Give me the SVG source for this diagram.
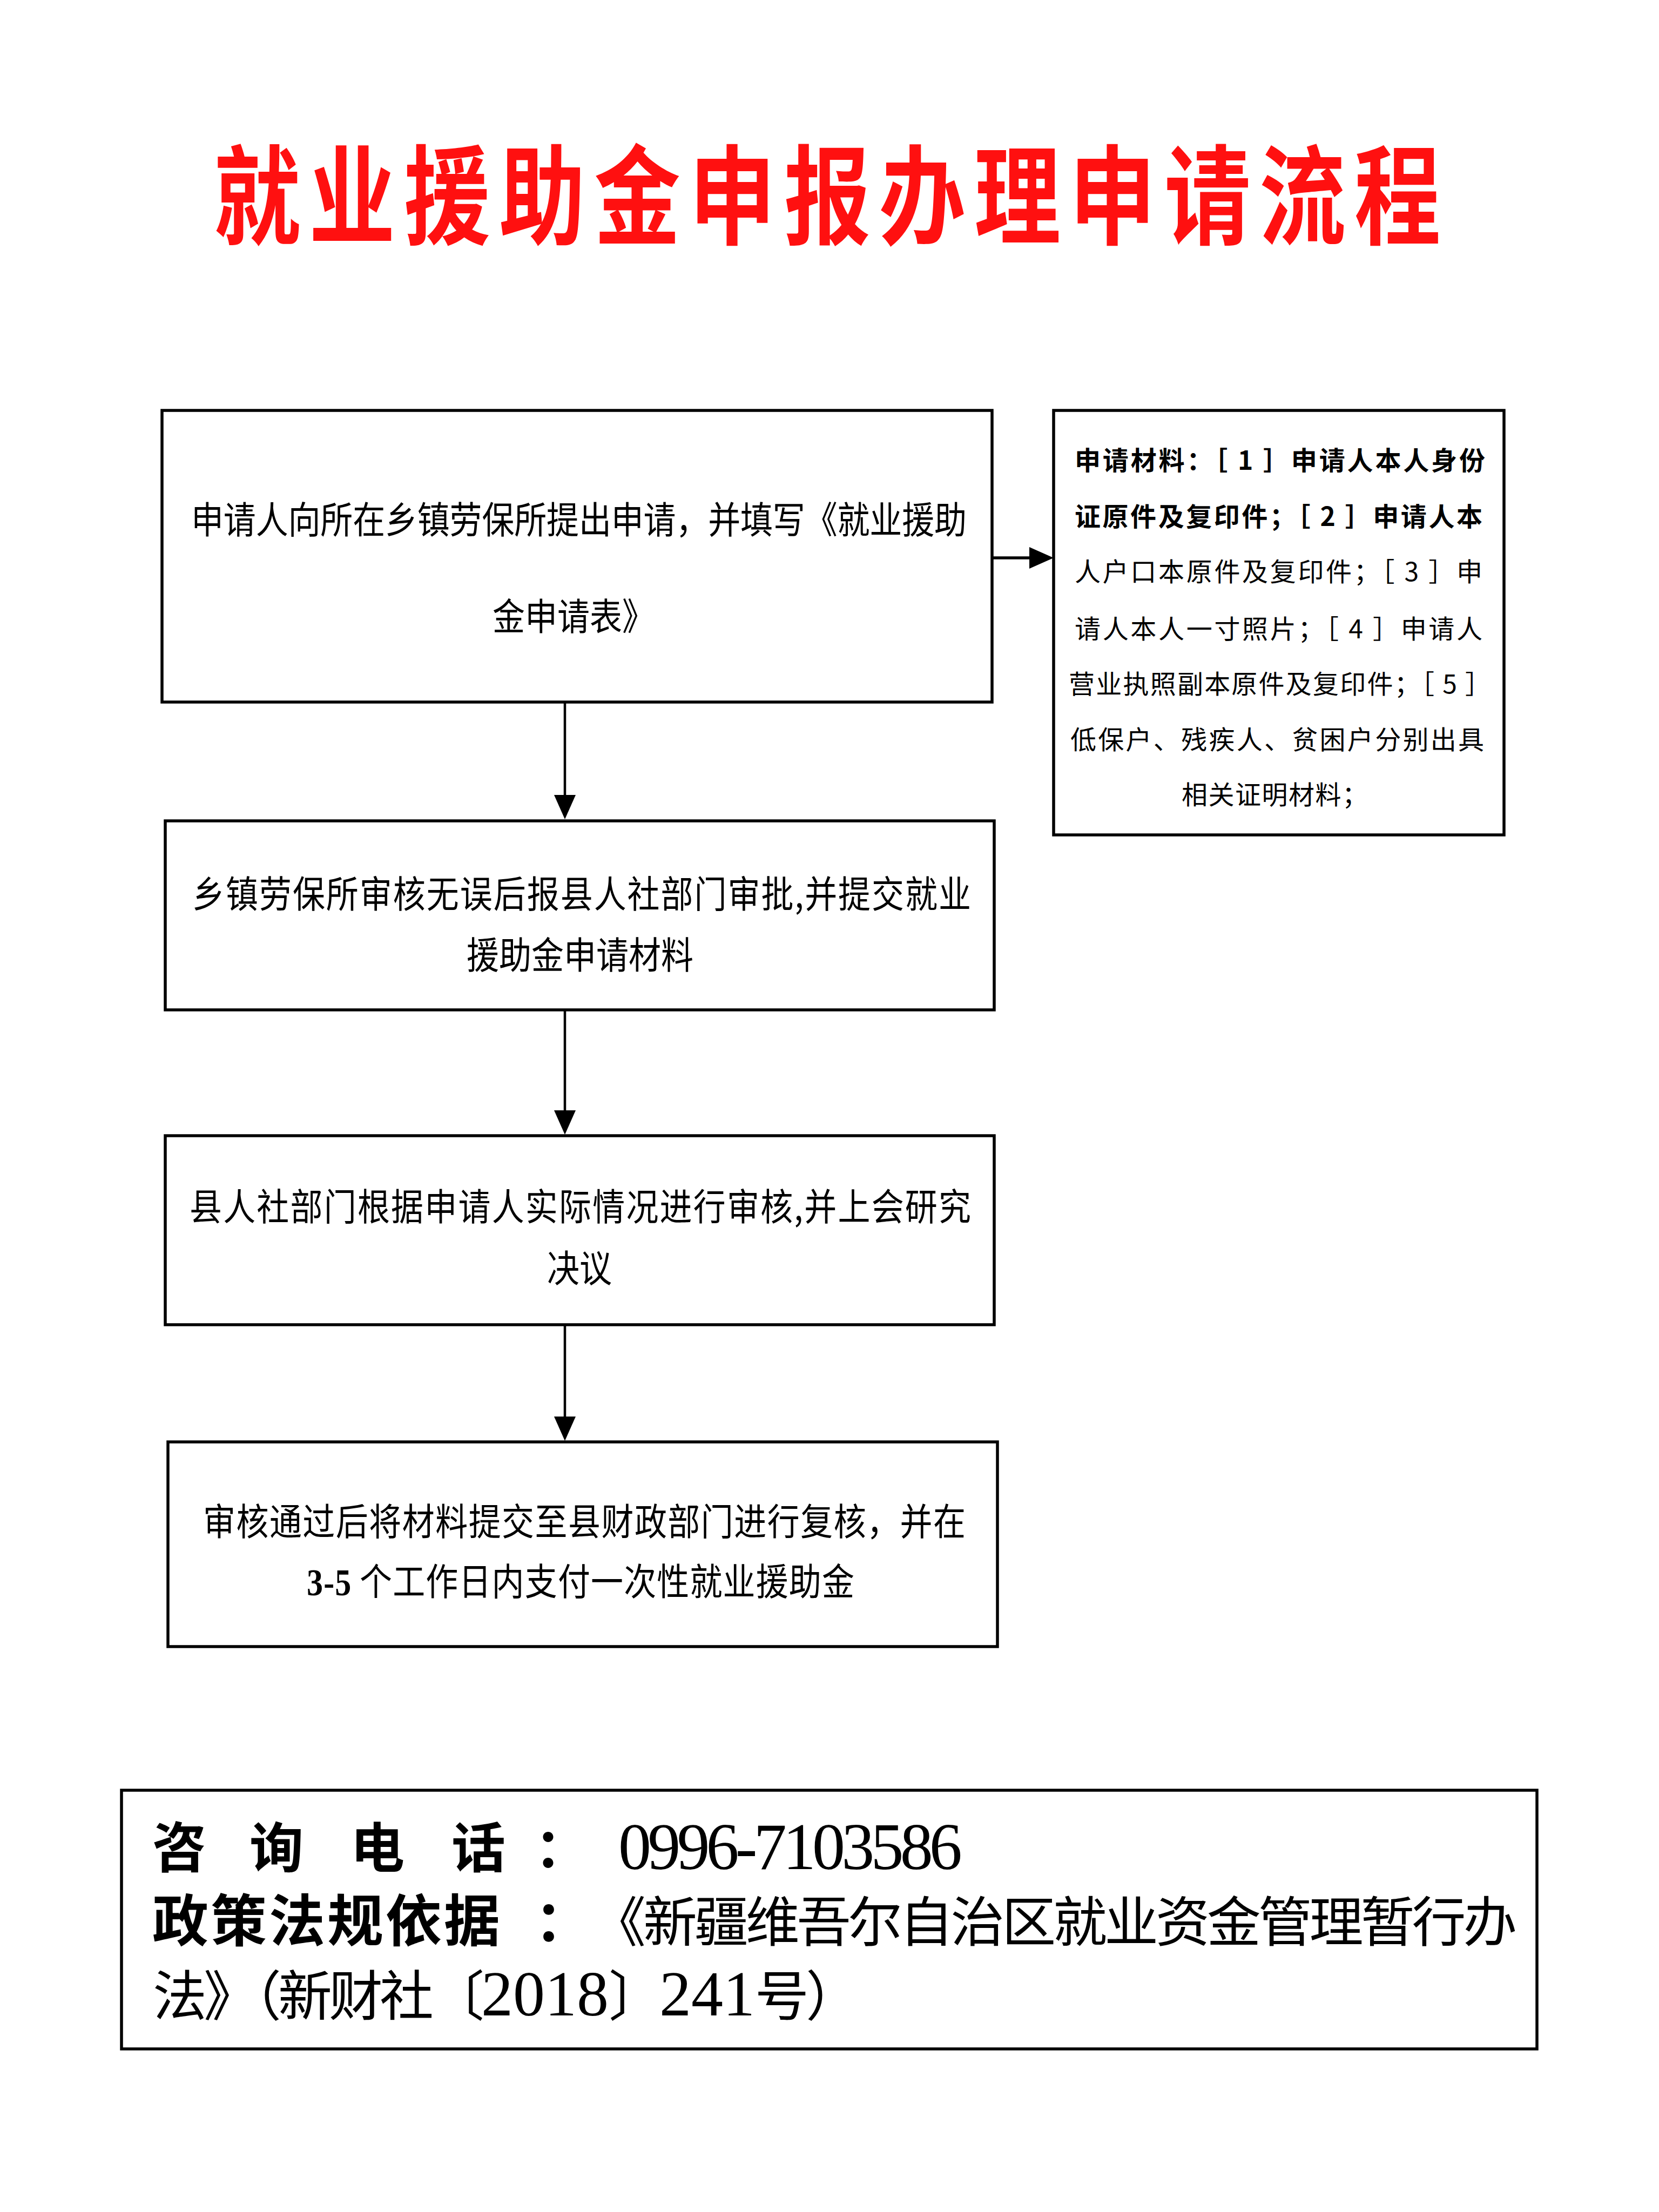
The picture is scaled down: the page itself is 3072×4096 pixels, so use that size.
<svg xmlns="http://www.w3.org/2000/svg" width="3072" height="4096" viewBox="0 0 3072 4096">
<style>
.box{fill:#fff;stroke:#000;stroke-width:5.5}
.con{fill:none;stroke:#000;stroke-width:4.5}
.title{font-family:"Noto Sans CJK SC","Noto Sans CJK TC",sans-serif;font-weight:700;font-size:160px;fill:#FF1010;letter-spacing:16px}
.bt{font-family:"Noto Sans CJK SC",sans-serif;font-size:60px;fill:#000}
.rt{font-family:"Noto Sans CJK SC",sans-serif;font-size:48px;fill:#000}
.rb{font-weight:700}
.ft{font-family:"Noto Sans CJK SC",sans-serif;fill:#000}
.fb{font-weight:700}
.num{font-family:"Liberation Serif",serif}
</style>
<defs>
<marker id="arr" markerUnits="userSpaceOnUse" markerWidth="46" markerHeight="42" viewBox="0 0 46 42" refX="5" refY="21" orient="auto">
<path d="M0,1 L45,21 L0,41 Z" fill="#000"/>
</marker>
</defs>
<rect width="3072" height="4096" fill="#fff"/>

<g id="title">
<text class="title" transform="translate(396,437) scale(1,1.25)">就业援助金申报办理申请流程</text>
</g>

<g id="connectors">
<path class="con" d="M1046,1300 L1046,1477" marker-end="url(#arr)"/>
<path class="con" d="M1046,1870 L1046,2061" marker-end="url(#arr)"/>
<path class="con" d="M1046,2453 L1046,2628" marker-end="url(#arr)"/>
<path class="con" style="stroke-width:5.5" d="M1837,1033 L1911,1033" marker-end="url(#arr)"/>
</g>

<g id="node1">
<rect class="box" x="300" y="760" width="1537" height="540"/>
<text class="bt" transform="translate(354,988) scale(1,1.15)" textLength="1436" lengthAdjust="spacing">申请人向所在乡镇劳保所提出申请，并填写《就业援助</text>
<text class="bt" transform="translate(1062,1167) scale(1,1.15)" text-anchor="middle">金申请表》</text>
</g>

<g id="node-materials">
<rect class="box" x="1951" y="760" width="834" height="786"/>
<text class="rt rb" x="1990" y="870" textLength="760" lengthAdjust="spacing">申请材料：［ 1 ］申请人本人身份</text>
<text class="rt rb" x="1990" y="974" textLength="755" lengthAdjust="spacing">证原件及复印件；［ 2 ］申请人本</text>
<text class="rt" x="1990" y="1076" textLength="755" lengthAdjust="spacing">人户口本原件及复印件；［ 3 ］申</text>
<text class="rt" x="1990" y="1182" textLength="755" lengthAdjust="spacing">请人本人一寸照片；［ 4 ］申请人</text>
<text class="rt" x="1979" y="1284" textLength="782" lengthAdjust="spacing">营业执照副本原件及复印件；［ 5 ］</text>
<text class="rt" x="1982" y="1387" textLength="766" lengthAdjust="spacing">低保户、残疾人、贫困户分别出具</text>
<text class="rt" x="2188" y="1489" textLength="345" lengthAdjust="spacing">相关证明材料；</text>
</g>

<g id="node2">
<rect class="box" x="306" y="1520" width="1535" height="350"/>
<text class="bt" transform="translate(356,1681) scale(1,1.15)" textLength="1442" lengthAdjust="spacing">乡镇劳保所审核无误后报县人社部门审批,并提交就业</text>
<text class="bt" transform="translate(1074,1794) scale(1,1.15)" text-anchor="middle">援助金申请材料</text>
</g>

<g id="node3">
<rect class="box" x="306" y="2103" width="1535" height="350"/>
<text class="bt" transform="translate(351,2260) scale(1,1.15)" textLength="1447" lengthAdjust="spacing">县人社部门根据申请人实际情况进行审核,并上会研究</text>
<text class="bt" transform="translate(1073,2374) scale(1,1.15)" text-anchor="middle">决议</text>
</g>

<g id="node4">
<rect class="box" x="311" y="2670" width="1536" height="379"/>
<text class="bt" transform="translate(376,2843) scale(1,1.15)" textLength="1412" lengthAdjust="spacing">审核通过后将材料提交至县财政部门进行复核，并在</text>
<text class="bt" transform="translate(568,2954) scale(1,1.15)" textLength="1014" lengthAdjust="spacing"><tspan class="num" font-weight="700">3-5</tspan> 个工作日内支付一次性就业援助金</text>
</g>

<g id="footer">
<rect class="box" x="225" y="3315" width="2621" height="479"/>
<text class="ft"><tspan class="fb" x="282" y="3458" font-size="100">咨 </tspan><tspan class="fb" x="462" y="3458" font-size="100">询 </tspan><tspan class="fb" x="649" y="3458" font-size="100">电 </tspan><tspan class="fb" x="836" y="3458" font-size="100">话 </tspan><tspan class="fb" x="990" y="3458" font-size="100">： </tspan><tspan class="num" x="1145" y="3461" font-size="122" letter-spacing="-6.8">0996-7103586</tspan><tspan class="fb" x="282" y="3595" font-size="104" letter-spacing="4">政策法规依据 </tspan><tspan class="fb" x="990" y="3595" font-size="104">：</tspan><tspan x="1096" y="3595" font-size="100" letter-spacing="-5.1">《新疆维吾尔自治区就业资金管理暂行办</tspan><tspan x="283" y="3732" font-size="100" letter-spacing="-6">法》（新财社〔</tspan><tspan class="num" font-size="118" letter-spacing="0">2018</tspan><tspan font-size="100" letter-spacing="-6">〕</tspan><tspan class="num" font-size="118" letter-spacing="0">241</tspan><tspan font-size="100" letter-spacing="-6">号）</tspan></text>
</g>
</svg>
